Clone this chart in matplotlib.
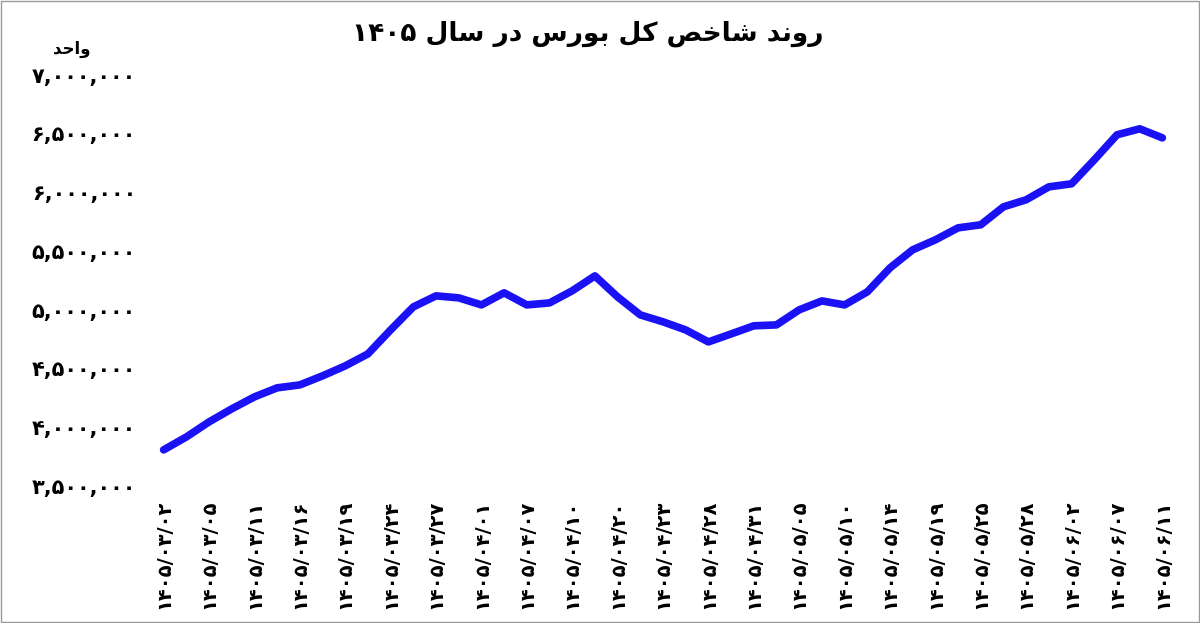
import matplotlib
matplotlib.use("Agg")
import matplotlib.pyplot as plt
import numpy as np

FA = str.maketrans("0123456789", "۰۱۲۳۴۵۶۷۸۹")

tick_dates = ["1405/03/02","1405/03/05","1405/03/11","1405/03/16","1405/03/19","1405/03/24",
              "1405/03/27","1405/04/01","1405/04/07","1405/04/10","1405/04/20","1405/04/23",
              "1405/04/28","1405/04/31","1405/05/05","1405/05/10","1405/05/14","1405/05/19",
              "1405/05/25","1405/05/28","1405/06/02","1405/06/07","1405/06/11"]
# index values (two observations per tick interval)
values = [3.807,3.917,4.045,4.156,4.258,4.335,4.360,4.437,4.522,4.624,4.828,5.024,5.118,
          5.101,5.041,5.144,5.041,5.058,5.161,5.288,5.109,4.956,4.897,4.828,4.726,4.794,
          4.863,4.871,4.999,5.075,5.041,5.152,5.356,5.510,5.595,5.697,5.723,5.876,5.936,
          6.046,6.072,6.276,6.489,6.540,6.463]
values = [v * 1e6 for v in values]
yticks = [3500000,4000000,4500000,5000000,5500000,6000000,6500000,7000000]

title = ("۱۴۰۵ " + "\uFEDD\uFE8E\uFEB3" + " " + "\uFEAD\uFEA9" + " " +
         "\uFEB1\uFEAD\uFEEE\uFE91" + " " + "\uFEDE\uFEDB" + " " +
         "\uFEBA\uFEA7\uFE8E\uFEB7" + " " + "\uFEAA\uFEE7\uFEED\uFEAD")
unit = "\uFEAA\uFEA3\uFE8D\uFEED"

plt.rcParams['font.family'] = ['DejaVu Sans']
fig = plt.figure(figsize=(12, 6.23), dpi=100)
ax = fig.add_axes([0.125, 0.22, 0.855, 0.66])
x = np.arange(len(values)) / 2.0
ax.plot(x, values, color="#1a12f5", lw=5.5, solid_capstyle="round", solid_joinstyle="round")
ax.set_ylim(3500000, 7000000)
ax.set_xlim(-0.3, 22.3)
ax.set_yticks(yticks)
ax.set_yticklabels([f"{v:,}".translate(FA) for v in yticks], fontsize=15, fontweight="bold")
ax.set_xticks(np.arange(len(tick_dates)))
ax.set_xticklabels([d.translate(FA) for d in tick_dates], rotation=90, fontsize=14, fontweight="bold")
ax.tick_params(length=0, pad=10)
for s in ax.spines.values():
    s.set_visible(False)
fig.text(0.49, 0.945, title, ha="center", va="center", fontsize=19, fontweight="bold")
fig.text(0.06, 0.922, unit, ha="center", va="center", fontsize=12, fontweight="bold")
fig.add_artist(plt.Rectangle((0.001, 0.001), 0.998, 0.998, transform=fig.transFigure,
                             fill=False, edgecolor="#999999", lw=1))
fig.savefig("out.png", dpi=100, facecolor="white")
